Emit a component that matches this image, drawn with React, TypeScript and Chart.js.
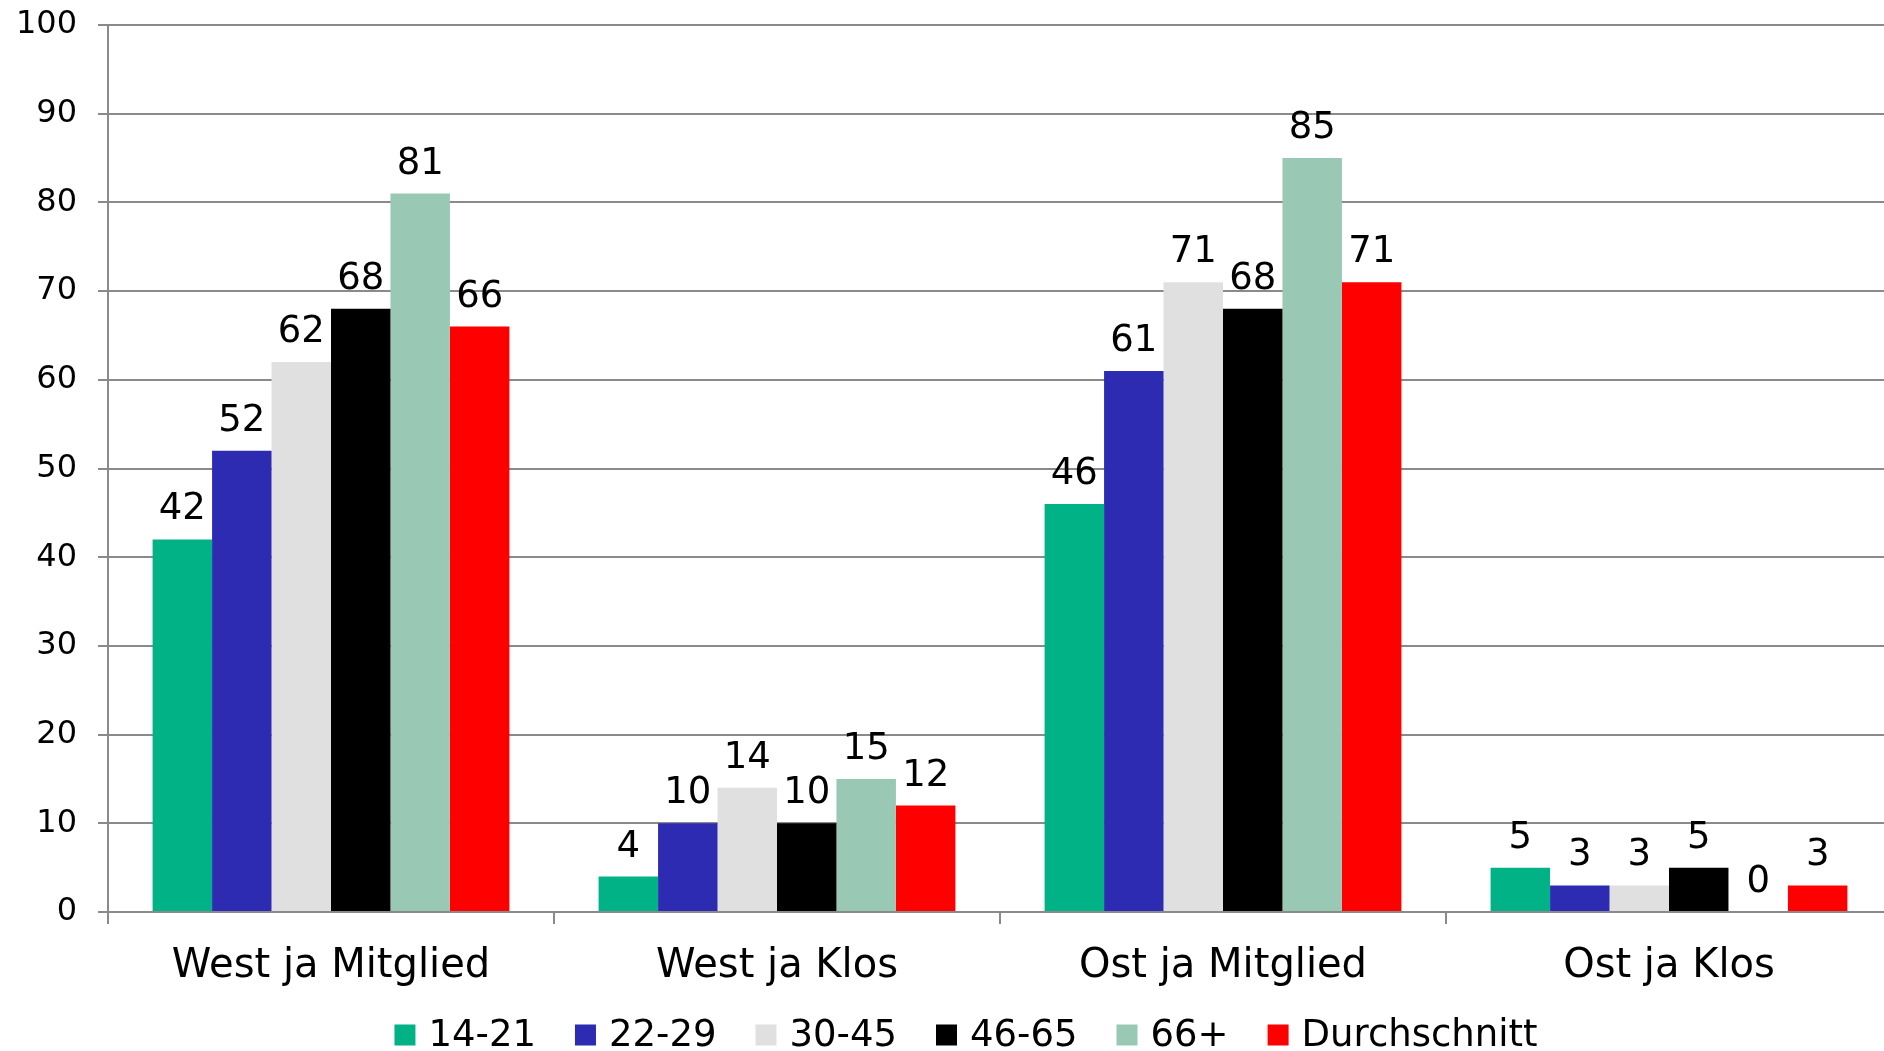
import React, { useEffect, useRef } from "react";
import { Chart, registerables } from "chart.js";

Chart.register(...registerables);

const categories = ["West ja Mitglied", "West ja Klos", "Ost ja Mitglied", "Ost ja Klos"];
const seriesLabels = ["14-21", "22-29", "30-45", "46-65", "66+", "Durchschnitt"];
const values1421 = [42, 4, 46, 5];
const values2229 = [52, 10, 61, 3];
const values3045 = [62, 14, 71, 3];
const values4665 = [68, 10, 68, 5];
const values66plus = [81, 15, 85, 0];
const valuesAvg = [66, 12, 71, 3];
const seriesColors = ["#02B287", "#2E2BB3", "#E0E0E0", "#000000", "#99C9B4", "#FF0000"];
const yMin = 0;
const yMax = 100;
const yStep = 10;

const FONT = "'DejaVu Sans', Verdana, sans-serif";
const GRID = "#8a8a8a";
const CANVAS_W = 1932;
const CANVAS_H = 1051;

const dataLabelPlugin = {
  id: "dataLabels",
  afterDatasetsDraw(chart: any) {
    const ctx = chart.ctx;
    ctx.save();
    ctx.font = `37px ${FONT}`;
    ctx.fillStyle = "#000";
    ctx.textAlign = "center";
    ctx.textBaseline = "alphabetic";
    chart.data.datasets.forEach((ds: any, di: number) => {
      const meta = chart.getDatasetMeta(di);
      meta.data.forEach((el: any, i: number) => {
        ctx.fillText(String(ds.data[i]), el.x, el.y - 20);
      });
    });
    ctx.restore();
  },
};

const legendPlugin = {
  id: "customLegend",
  afterDraw(chart: any) {
    const ctx = chart.ctx;
    ctx.save();
    ctx.font = `37px ${FONT}`;
    const box = 21;
    const gap = 13;
    const spacing = 39;
    const items = chart.data.datasets.map((ds: any) => ({
      text: ds.label,
      color: ds.backgroundColor,
      w: ctx.measureText(ds.label).width,
    }));
    const total =
      items.reduce((a: number, it: any) => a + box + gap + it.w, 0) + spacing * (items.length - 1);
    let x = CANVAS_W / 2 - total / 2;
    const cy = 1035;
    ctx.textBaseline = "middle";
    ctx.textAlign = "left";
    items.forEach((it: any) => {
      ctx.fillStyle = it.color;
      ctx.fillRect(x, cy - box / 2, box, box);
      ctx.fillStyle = "#000";
      ctx.fillText(it.text, x + box + gap, cy + 1);
      x += box + gap + it.w + spacing;
    });
    ctx.restore();
  },
};

export default function App() {
  const ref = useRef<HTMLCanvasElement | null>(null);
  useEffect(() => {
    document.body.style.margin = "0";
    const canvas = ref.current!;
    const allSeries = [values1421, values2229, values3045, values4665, values66plus, valuesAvg];
    const chart = new Chart(canvas, {
      type: "bar",
      data: {
        labels: categories,
        datasets: allSeries.map((d, i) => ({
          label: seriesLabels[i],
          data: d,
          backgroundColor: seriesColors[i],
          borderWidth: 0,
          categoryPercentage: 0.8,
          barPercentage: 1.0,
        })),
      },
      options: {
        responsive: false,
        animation: false,
        layout: { padding: { top: 25, left: 0, right: 40, bottom: CANVAS_H - 912 - 85 } },
        plugins: {
          tooltip: { enabled: false },
          legend: { display: false },
        },
        scales: {
          x: {
            grid: {
              display: true,
              drawOnChartArea: false,
              drawTicks: true,
              tickLength: 12,
              color: GRID,
              lineWidth: 2,
              offset: true,
            },
            border: { display: true, color: GRID, width: 2 },
            ticks: { font: { family: FONT, size: 40 }, color: "#000", padding: 19, maxRotation: 0 },
            afterFit: (s: any) => {
              s.height = 85;
              s.paddingLeft = 0;
              s.paddingRight = 0;
            },
          },
          y: {
            min: yMin,
            max: yMax,
            ticks: { stepSize: yStep, font: { family: FONT, size: 32 }, color: "#000", padding: 21 },
            grid: { color: GRID, lineWidth: 2, drawTicks: true, tickLength: 10 },
            border: { display: true, color: GRID, width: 2 },
            afterFit: (s: any) => {
              s.width = 108;
              s.paddingTop = 0;
              s.paddingBottom = 0;
            },
          },
        },
      },
      plugins: [dataLabelPlugin, legendPlugin],
    });
    return () => chart.destroy();
  }, []);
  return (
    <div style={{ position: "fixed", left: 0, top: 0, width: 1884, height: 1051, overflow: "hidden", background: "#fff" }}>
      <canvas ref={ref} width={CANVAS_W} height={CANVAS_H} style={{ width: CANVAS_W, height: CANVAS_H, display: "block" }} />
    </div>
  );
}
